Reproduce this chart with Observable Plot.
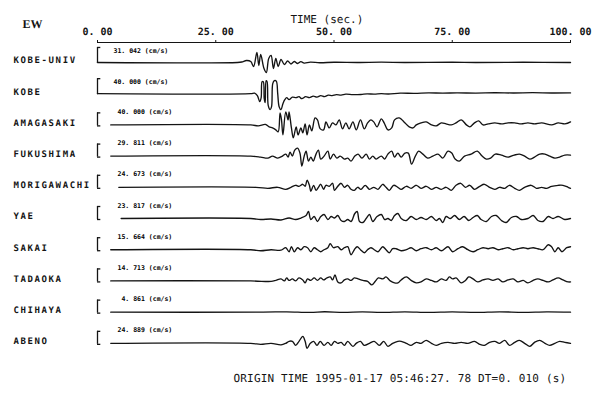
<!DOCTYPE html>
<html><head><meta charset="utf-8">
<script src="https://cdn.jsdelivr.net/npm/d3@7"></script>
<script src="https://cdn.jsdelivr.net/npm/@observablehq/plot@0.6"></script>
<style>body{margin:0;background:#fff} svg{display:block} svg text{-webkit-font-smoothing:antialiased;text-rendering:geometricPrecision}</style>
</head><body><div id="chart"></div>
<script>
const stations = ["KOBE-UNIV","KOBE","AMAGASAKI","FUKUSHIMA","MORIGAWACHI","YAE","SAKAI","TADAOKA","CHIHAYA","ABENO"];
const peaks = ["31.042","40.000","40.000","29.811","24.673","23.817","15.664","14.713","4.861","24.889"];
const timeTicks = [0,25,50,75,100];
const componentLabel = "EW";
const axisTitle = "TIME (sec.)";
const caption = "ORIGIN TIME 1995-01-17 05:46:27.78 DT=0.010 (s)";

// [time (s), deflection (up positive)]
const kobeUniv = [[0,0],[29.6,0],[30.5,0.5],[31.5,2],[32.4,1],[33,-4],[33.7,10],[34.1,-3],[34.5,8],[35.2,-6],[35.7,-10],[36.2,4],[36.7,7],[37.2,-6],[37.7,4],[38.2,-4],[38.8,3],[39.5,-2],[40.2,1.5],[40.9,-1.5],[41.6,1],[42.3,-1],[43,0.8],[43.7,-0.6],[45,0.3],[47,-0.3],[50,0.2],[55,0],[60,0.3],[65,0],[75,0.2],[80,0],[90,0.2],[100,0]];
const kobe = [[0,0],[32.4,0],[33.2,0.5],[33.8,-2],[34.3,-8],[34.6,-4],[34.8,12],[35.05,12],[35.25,-5],[35.45,-9],[35.65,13],[35.85,12],[36.1,-12],[36.5,-16],[36.8,-13],[37.05,10],[37.4,13],[37.8,12.5],[38.1,0],[38.4,-13],[38.8,-16],[39.2,-10],[39.6,-6],[40,-4],[40.5,-6],[41.2,-3.5],[42,-4],[42.6,-3],[43.2,-5],[44,-3],[44.8,-4],[45.6,-2.5],[46.4,-3.5],[47.2,-2],[48,-3],[48.8,-1.5],[49.6,-2],[50.5,-1],[51.5,-1.5],[52.5,-0.5],[54,-1],[55.7,-0.8],[57,-0.2],[58.5,-0.5],[60,0],[61.5,-0.3],[64,0.5],[67,0.3],[70,0.8],[73,0.5],[76,0.8],[80,0.6],[84,0.9],[88,0.7],[92,1],[96,0.7],[100,0.8]];
const amagasaki = [[2.8,0],[32.4,0],[34,-1],[35.5,0.5],[36.3,-2],[37,-3],[37.7,-5],[38.2,-7],[38.6,12],[38.9,5],[39.2,-10],[39.8,13],[40.3,5],[40.5,13],[41,-3],[41.4,-13],[42,-2],[42.4,-10],[43,-3],[43.4,-8],[43.9,1],[44.3,-10],[44.8,0],[45.3,-6],[46,7],[46.5,5],[47.1,-4],[47.8,-5],[48.3,3],[49,-3],[49.7,2],[50.4,0],[51.1,5],[51.8,-4],[52.5,2],[53.2,-4],[54,3],[54.7,-5],[55.6,5],[56.4,-4],[57.1,2],[57.8,5],[58.4,3],[59.1,-2],[60,6],[60.6,2],[61.4,-5],[62.2,-3],[62.8,5],[63.8,7],[64.8,3],[65.9,-2],[66.7,-3],[67.4,0],[68.4,2],[69.5,3],[70.6,0],[71.6,-1],[72.7,2],[73.7,1],[74.8,0],[75.8,2],[76.9,5],[78,0],[78.7,-2],[79.7,2],[80.6,4],[81.5,0],[82.6,1],[84,2],[85.4,1],[86.8,2],[88.2,2],[89.6,1],[91,2],[92.4,1],[93.9,2],[96,0],[97.4,2],[98.8,1],[100,3]];
const fukushima = [[2.8,0],[32.4,0],[34.5,-1],[36,-2],[37,0],[38.1,-2],[39.1,0],[39.8,2],[40.3,-1],[40.7,4],[41.2,0],[41.7,6],[42.3,8],[42.8,3],[43.2,-10],[43.7,0],[44.1,5],[44.6,-5],[45.1,-1],[45.6,-5],[46.2,2],[46.7,6],[47.2,-3],[47.9,0],[48.7,5],[49.2,-3],[49.9,2],[50.6,-2],[51.3,0],[52.2,-3],[52.9,-2],[53.6,-5],[54.4,0],[55.1,2],[55.9,-2],[56.8,2],[57.5,-3],[58.2,0],[58.9,-3],[60,0],[60.7,-3],[61.4,2],[62.2,5],[62.8,-1],[63.5,3],[64.2,-1],[65,3],[65.7,3],[66.4,-8],[67.2,0],[67.9,5],[68.8,2],[69.8,-2],[70.9,0],[72,2],[73,-2],[74.1,5],[74.9,3],[75.6,-3],[76.5,-5],[77.6,0],[79,2],[80.3,5],[81.3,0],[82.2,-3],[83.1,-2],[84.1,2],[85.4,1],[86.8,-1],[88.1,1],[89.2,2],[90.3,0],[91.4,-3],[92.4,-1],[93.5,2],[94.6,2],[95.6,0],[96.7,-2],[97.7,-1],[98.8,1],[100,1]];
const morigawachi = [[4.5,0],[33.5,0],[36,-1],[38.1,0],[39.8,-2],[40.9,0],[41.9,2],[42.6,1],[43.4,3],[43.9,1],[44.3,7],[44.8,2],[45.1,-4],[45.7,2],[46.2,-3],[46.7,0],[47.2,3],[47.8,-2],[48.3,2],[49,1],[49.7,4],[50.1,-3],[50.8,1],[51.5,4],[52.2,0],[52.9,2],[53.6,-2],[54.3,-3],[55,0],[55.7,-2],[56.6,2],[57.5,-2],[58.4,0],[59.3,-2],[60.3,3],[61,0],[61.7,-3],[62.6,2],[63.5,0],[64.2,-2],[65.3,1],[66.3,-1],[67.4,2],[68.4,-1],[69.5,1],[70.6,-2],[71.6,0],[72.7,-2],[73.7,0],[74.8,-3],[75.8,2],[76.8,4],[77.8,0],[78.7,2],[79.7,-2],[80.8,1],[81.8,3],[82.9,0],[84,-2],[85,0],[86.1,-1],[87.1,2],[88.2,-1],[89.2,-3],[90.3,0],[91.7,2],[92.8,-1],[93.9,0],[94.9,-1],[96,1],[97.4,2],[98.4,2],[99.5,0],[100,-1]];
const yae = [[5,0],[32.4,0],[34.5,-1],[36.7,-0.5],[38.8,-1.5],[40.5,0.5],[41.9,-1],[43,0.5],[44.1,3],[44.6,7],[45.1,-1],[45.8,2],[46.5,-3],[47.2,2],[47.9,4],[48.7,-1],[49.4,2],[50.1,0.5],[50.8,3],[51.5,-2],[52.2,-3],[52.9,-1],[53.6,-3],[54.4,5],[54.9,7],[55.4,-3],[56.1,-4],[56.8,0],[57.5,4],[58.2,-3],[59.1,2],[60,4],[60.7,-1],[61.4,0],[62.1,-2],[62.8,3],[63.5,5],[64.2,0],[65.3,-2],[66.3,2],[67.4,-1],[68.4,1],[69.5,-1],[70.6,2],[71.6,-2],[72.3,0],[73,-4],[73.7,2],[74.6,0],[75.5,3],[76.5,-1],[77.5,2],[78.5,-2],[79.4,1],[80.3,3],[81.1,-1],[82.2,-3],[83.3,2],[84.3,3],[85.4,-2],[86.4,-4],[87.5,1],[88.6,2],[89.6,-1],[91,0],[92.1,3],[93.1,-2],[94.2,-3],[95.3,2],[96.3,0],[97.4,2],[98.8,-1],[100,0]];
const sakai = [[2.8,0],[32.4,0],[34.5,-1],[36.7,0],[38.8,-0.5],[39.8,2],[40.5,-2],[41,3],[41.6,-2],[42.3,2],[43,0],[43.7,3],[44.4,2],[45.1,-2],[45.8,2],[46.5,0],[47.2,-2],[47.9,0],[48.7,2],[49.2,6],[49.9,2],[50.8,3],[51.5,0],[52.2,2],[52.9,3],[53.6,-5],[54.3,0],[54.9,3],[55.6,0],[56.4,-3],[57.1,0],[57.8,2],[58.5,0],[59.3,-2],[60.3,3],[61,0],[61.7,-3],[62.4,1],[63.1,1],[64.2,-1],[65.3,0],[66.3,2],[67.4,-1],[68.4,1],[69.5,2],[70.6,0],[71.6,2],[72.7,-1],[74.1,3],[75.1,-2],[76.2,1],[77.2,3],[78.3,0],[79.4,-2],[80.4,0],[81.5,2],[82.6,1],[83.6,2],[84.7,0],[85.7,1],[86.8,2],[87.9,0],[88.9,1],[90,2],[91,1],[92.1,2],[93.1,1],[94.2,0],[95.3,5],[96,3],[96.7,-2],[97.4,2],[98.2,-2],[99.2,2],[100,3]];
const tadaoka = [[2.8,0],[32.4,0],[36.7,-0.5],[37.7,0.5],[38.8,2],[39.5,0],[40,3],[40.5,0.5],[41.2,2],[41.9,0],[42.6,3],[43.4,1],[43.9,-2],[44.4,2],[45.1,0.5],[45.8,3],[46.5,0.5],[47.2,3],[47.8,1],[48.5,3],[49.2,4],[49.7,1],[50.2,6],[50.8,-1],[51.5,-2],[52.2,1],[52.9,2],[53.6,0.5],[54.3,3],[55.1,2],[56.1,0.5],[57.1,-0.5],[58,-4],[58.7,-0.5],[59.4,3],[60.3,2],[61,4],[61.9,0],[62.8,-2],[63.5,-2],[64.2,1],[65.3,4],[66.3,0.5],[67.4,-2],[68.4,-1],[69.5,2],[70.6,0.5],[71.6,-1],[72.7,2],[73.7,0.5],[74.4,4],[75.1,2],[75.8,3],[76.9,-2],[77.8,0.5],[78.5,4],[79.4,2],[80.4,-1],[81.5,1],[82.6,2],[83.6,0.5],[84.7,2],[85.7,-1],[86.8,1],[87.9,2],[88.9,-1],[90,0.5],[91,-2],[92.1,0.5],[93.1,2],[94.2,0.5],[95.3,-1],[96.3,1],[97.4,3],[98.4,1],[99.5,-1],[100,-1]];
const chihaya = [[2.8,0],[35,0],[40,0.3],[45,-0.3],[48,0.4],[52,-0.3],[56,0.3],[60,-0.3],[65,0.3],[70,-0.3],[75,0.2],[80,-0.3],[85,0.3],[90,-0.2],[95,0.3],[100,0]];
const abeno = [[2.8,0],[32.4,0],[34.5,-1],[36.7,0],[38.8,-1.5],[39.8,0],[40.5,2],[41.2,2],[41.9,-2],[42.6,2],[43.4,7],[43.9,2],[44.3,-5],[45,0],[45.7,2],[46.4,-2],[47.1,2],[47.9,-2],[48.7,1],[49.4,-2],[50.1,2],[50.8,0],[51.5,1],[52.2,-2],[52.9,2],[54,-3],[54.7,0],[55.6,2],[56.4,-2],[57.5,0],[58.5,2],[59.6,-2],[60.5,2],[61.4,-3],[62.4,0],[63.5,2],[64.2,2],[65.3,0],[66.3,-2],[67.4,1],[68.4,0],[69.5,3],[70.6,0],[71.6,-2],[72.7,0],[74.1,1],[75.5,0],[76.9,1],[78.3,0],[79.7,2],[80.8,-1],[81.8,-2],[82.9,1],[84,2],[85,0],[86.1,3],[87.1,-2],[88.2,1],[89.2,3],[90.3,0],[91.4,-3],[92.4,1],[93.5,3],[94.6,0],[95.6,-2],[96.7,0],[97.7,2],[98.8,1],[100,0]];
const traces = [kobeUniv,kobe,amagasaki,fukushima,morigawachi,yae,sakai,tadaoka,chihaya,abeno];

// layout
const rowPx = 31.2;
const yDomain = [-0.64, 9.55];
const table = traces.flatMap((tr, i) => tr.map(([t, v]) => ({station: stations[i], row: i, t, v})));
const rows = stations.map((s, i) => ({station: s, row: i, peak: peaks[i]}));
const fmt = s => s.replace(".", ". ");
const ink = "#141414";

const chart = Plot.plot({
  width: 596, height: 403,
  marginLeft: 97, marginRight: 26, marginTop: 42, marginBottom: 43,
  style: {fontFamily: "DejaVu Sans Mono", background: "#fff", color: ink},
  x: {domain: [0, 100]},
  y: {domain: yDomain, range: [42, 360], axis: null},
  marks: [
    Plot.axisX(timeTicks, {anchor: "top", tickSize: 3, tickPadding: 5, fontSize: 10, fontWeight: "bold",
      tickFormat: d => fmt(d.toFixed(2)), label: null}),
    Plot.ruleY([yDomain[0]], {x1: 0, x2: 100, stroke: ink, strokeWidth: 1.2}),
    // brackets
    Plot.ruleX(rows, {x: 0, y1: d => d.row - (d.row < 2 ? 15 : 12) / rowPx, y2: d => d.row + 1 / rowPx, stroke: ink, strokeWidth: 1.3}),
    Plot.ruleY(rows, {y: d => d.row - (d.row < 2 ? 15 : 12) / rowPx, x1: 0, x2: 0.7, stroke: ink, strokeWidth: 1.3}),
    Plot.ruleY(rows.filter(d => d.row >= 2), {y: d => d.row + 1 / rowPx, x1: 0, x2: 0.7, stroke: ink, strokeWidth: 1.3}),
    // traces
    Plot.line(table, {x: "t", y: d => d.row - d.v / rowPx, z: "station", stroke: ink, strokeWidth: 1.35, curve: "catmull-rom"}),
    // peak amplitude labels
    Plot.text(rows.filter(d => d.row < 2), {x: 0, dx: 16, y: d => d.row - 12 / rowPx, text: d => fmt(d.peak.padStart(6, " ")) + " (cm/s)",
      textAnchor: "start", fontFamily: "DejaVu Sans Mono", fontSize: 6.5, fontWeight: 600, fill: "#000"}),
    Plot.text(rows.filter(d => d.row >= 2), {x: 0, dx: 20, y: d => d.row - 13 / rowPx, text: d => fmt(d.peak.padStart(6, " ")) + " (cm/s)",
      textAnchor: "start", fontFamily: "DejaVu Sans Mono", fontSize: 6.5, fontWeight: 600, fill: "#000"}),
    // station names
    Plot.text(rows, {frameAnchor: "left", y: "row", dy: -2, dx: -84, text: "station", textAnchor: "start",
      fontSize: 9, fontWeight: "bold", fill: ink}),
    Plot.text([componentLabel], {frameAnchor: "top-left", dx: -75, dy: -23, textAnchor: "start",
      fontFamily: "Liberation Serif", fontSize: 12, fontWeight: "bold", fill: ink}),
    Plot.text([axisTitle], {frameAnchor: "top-left", dx: 193, dy: -27, textAnchor: "start", fontSize: 11, fill: ink}),
    Plot.text([caption], {frameAnchor: "bottom-left", dx: 136, dy: 21, textAnchor: "start", fontSize: 11, fill: ink,
      text: d => d.replace("27.78", "27. 78").replace("0.010", "0. 010")})
  ]
});
d3.select(chart).selectAll("text").each(function() {
  const t = this.textContent;
  if (stations.includes(t)) this.setAttribute("letter-spacing", "1.6");
  if (t.startsWith("ORIGIN")) this.setAttribute("letter-spacing", "0.17");
});
document.getElementById("chart").append(chart);
</script>
</body></html>
